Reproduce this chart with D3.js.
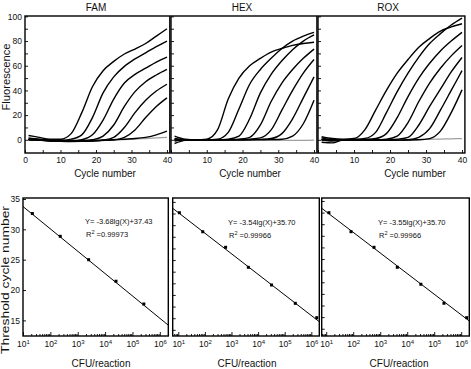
<!DOCTYPE html>
<html>
<head>
<meta charset="utf-8">
<script src="https://cdnjs.cloudflare.com/ajax/libs/d3/7.8.5/d3.min.js"></script>
<style>
body { margin: 0; background: #fff; }
svg { display: block; font-family: "Liberation Sans", Arial, sans-serif; }
.frame { fill: none; stroke: #000; stroke-width: 1.4; }
.axis text { font-family: "Liberation Sans", Arial, sans-serif; font-size: 8.5px; fill: #111; }
.axis line { stroke: #000; stroke-width: 0.9; }
.curve { fill: none; stroke: #000; stroke-width: 1.4; }
.curve.ntc { stroke: #a0a0a0; stroke-width: 1.2; }
.fit { stroke: #000; stroke-width: 1; }
.label { font-size: 10px; fill: #111; }
.eq { font-size: 7.5px; fill: #111; }
</style>
</head>
<body>
<svg id="chart" width="471" height="369"></svg>
<script>
const dyes = ['FAM', 'HEX', 'ROX'];

// amplification curves, read at these cycles
const cycles = [1, 4, 7, 10, 13, 16, 19, 22, 25, 28, 31, 34, 37, 40];

const famCurves = [
    [3.5, 2.0, 0.5, 0.5, 5, 22, 43, 56, 63.5, 69.5, 73.5, 78, 84, 90],
    [1.5, 0.5, -0.3, -0.5, 0.5, 4, 18, 38, 51, 59.5, 65.5, 70.5, 75.5, 80],
    [0.5, 0, -0.8, -1, -1, 0, 4, 16, 33, 46, 53, 58, 63, 67],
    [0, -0.3, -1, -1.3, -1.3, -1, 0, 3, 12, 27, 39, 47, 52.5, 57],
    [0, -0.3, -0.8, -1.2, -1.4, -1.3, -1, -0.3, 2, 10, 22, 32, 39.5, 45],
    [0, -0.2, -0.6, -1, -1.2, -1.2, -1, -0.5, 0, 2, 8, 18, 27, 34],
    [0.5, 0.3, 0, -0.3, -0.5, -0.5, -0.4, -0.2, 0, 0.5, 1, 2, 4, 7]
];
const famNtc = [0, 0, -0.3, -0.6, -0.8, -1, -0.9, -0.6, -0.2, 0.2, 0.5, 1, 1.5, 2];

const hexCurves = [
    [3, 0.5, 0, 0.5, 8, 33, 50, 60, 66, 71, 74, 76.5, 78, 79],
    [-3, -0.5, 0, 0, 0.5, 6, 25, 45, 57, 66, 74, 80, 84, 87],
    [1, 0, 0, 0, 0, 0.5, 3, 17, 38, 53, 64, 73, 80, 85],
    [-1, 0, 0, 0, 0, 0, 0.5, 2, 12, 31, 46, 57, 66, 73.5],
    [0.5, 0, 0, 0, 0, 0, 0, 0.5, 1.5, 8, 24, 40, 54, 65],
    [-0.5, 0, 0, 0, 0, 0, 0, 0, 0.3, 1, 5, 17, 34, 51],
    [0, 0, 0, 0, 0, 0, 0, 0, 0, 0.2, 0.5, 3, 13, 32]
];
const hexNtc = [0, 0, 0, 0, 0, 0, 0, 0, -0.3, -0.5, -0.5, -0.5, -0.5, -0.3];

const roxCurves = [
    [2.5, 1, 0.5, 1, 8, 24, 40, 54, 65, 75, 82, 88, 91.5, 94],
    [-2, -2.5, 0, 0.3, 1, 6, 22, 39, 54, 67, 78, 86, 93, 98.6],
    [1.5, 0, 0, 0, 0.3, 1, 5, 18, 35, 50, 62, 72, 80, 87],
    [0, -1, 0, 0, 0, 0, 0.5, 3, 14, 31, 46, 58, 68, 76.4],
    [0.5, -0.5, -0.3, -0.5, -0.5, -0.5, -0.3, 0.5, 2, 12, 27, 41, 55, 66.7],
    [0, 0, 0, -0.3, -0.5, -0.5, -0.5, -0.3, 0, 2, 9, 24, 40, 56],
    [0, 0, 0, 0, -0.3, -0.3, -0.3, -0.3, -0.2, 0, 1, 7, 22, 40.5]
];
const roxNtc = [0, 0, 0, 0, 0, 0, 0, 0, 0, 0.2, 0.4, 0.6, 0.8, 1];

// standard curves
const famCfu = [22, 230, 2500, 25000, 260000];
const famCt = [32.6, 28.85, 25.0, 21.45, 17.7];
const hexCfu = [11, 83, 600, 4300, 32000, 250000, 1600000];
const hexCt = [32.14, 28.87, 26.19, 22.75, 19.71, 16.56, 14.09];
const roxCfu = [12.6, 83, 590, 4300, 32000, 230000, 1600000];
const roxCt = [31.98, 28.71, 26.02, 22.58, 19.66, 16.39, 13.91];

const fitSlope = [-3.68, -3.54, -3.55];
const fitIntercept = [37.43, 35.70, 35.70];
const fitR2 = ['0.99973', '0.99966', '0.99966'];

// ticks
const cycleTicks = [0, 5, 10, 15, 20, 25, 30, 35, 40];
const cycleLabels = [0, 10, 20, 30, 40];
const fluorTicks = [0, 10, 20, 30, 40, 50, 60, 70, 80, 90, 100];
const fluorLabels = [0, 20, 40, 60, 80, 100];
const ctLabels = [15, 20, 25, 30, 35];
const ctMinorTicks = [12, 14, 16, 18, 20, 22, 24, 26, 28, 30, 32, 34];
const cfuExponents = [1, 2, 3, 4, 5, 6];

const svg = d3.select('#chart');

class AmplificationPlot {
    constructor(_config, _data) {
        this.config = _config;
        this.data = _data;
        this.initVis();
    }

    initVis() {
        let vis = this;
        let c = vis.config;

        vis.xScale = d3.scaleLinear().domain([0, 40.8]).range([c.x0, c.x1]);
        vis.yScale = d3.scaleLinear().domain([-10.7, 100.3]).range([153, 16]);

        vis.g = svg.append('g');

        vis.xAxis = d3.axisBottom(vis.xScale)
            .tickValues(cycleTicks)
            .tickSize(-3)
            .tickPadding(4)
            .tickFormat(d => (cycleLabels.includes(d) && (d > 0 || c.first)) ? d : '');

        vis.yAxis = d3.axisLeft(vis.yScale)
            .tickValues(fluorTicks)
            .tickSize(-3)
            .tickPadding(3)
            .tickFormat(d => (c.first && fluorLabels.includes(d)) ? d : '');

        vis.g.append('g').attr('class', 'axis')
            .attr('transform', 'translate(0,153)')
            .call(vis.xAxis)
            .call(g => g.select('.domain').remove());

        vis.g.append('g').attr('class', 'axis')
            .attr('transform', `translate(${c.x0},0)`)
            .call(vis.yAxis)
            .call(g => g.select('.domain').remove());

        vis.g.append('rect')
            .attr('class', 'frame')
            .attr('x', c.x0).attr('y', 16)
            .attr('width', c.x1 - c.x0).attr('height', 153 - 16);

        vis.g.append('text')
            .attr('class', 'label')
            .attr('x', c.titleX).attr('y', 11)
            .attr('text-anchor', 'middle')
            .text(c.title);

        vis.g.append('text')
            .attr('class', 'label')
            .attr('x', c.labelX).attr('y', 177)
            .attr('text-anchor', 'middle')
            .text('Cycle number');

        vis.renderVis();
    }

    renderVis() {
        let vis = this;

        vis.line = d3.line()
            .x((d, i) => vis.xScale(cycles[i]))
            .y(d => vis.yScale(d))
            .curve(d3.curveMonotoneX);

        vis.g.append('path')
            .datum(vis.data.ntc)
            .attr('class', 'curve ntc')
            .attr('d', vis.line);

        vis.g.selectAll('.curve.pos')
            .data(vis.data.curves)
            .join('path')
            .attr('class', 'curve pos')
            .attr('d', vis.line);
    }
}

class StandardCurvePlot {
    constructor(_config, _data) {
        this.config = _config;
        this.data = _data;
        this.initVis();
    }

    initVis() {
        let vis = this;
        let c = vis.config;

        vis.xScale = d3.scaleLog()
            .domain([Math.pow(10, c.lgDomain[0]), Math.pow(10, c.lgDomain[1])])
            .range([c.x0, c.x1]);
        vis.yScale = d3.scaleLinear().domain(c.ctDomain).range([336, 198]);

        vis.g = svg.append('g');

        let majors = cfuExponents.map(e => Math.pow(10, e));
        let minors = vis.xScale.ticks().filter(t => !majors.some(m => Math.abs(m - t) / m < 1e-6));

        vis.g.append('g').attr('class', 'axis')
            .attr('transform', 'translate(0,336)')
            .call(d3.axisBottom(vis.xScale).tickValues(minors).tickSize(-2).tickFormat(''))
            .call(g => g.select('.domain').remove());

        vis.g.append('g').attr('class', 'axis')
            .attr('transform', 'translate(0,336)')
            .call(d3.axisBottom(vis.xScale).tickValues(majors).tickSize(-4).tickPadding(5).tickFormat(''))
            .call(g => g.select('.domain').remove())
            .selectAll('.tick text')
            .each(function(d, i) {
                let t = d3.select(this);
                t.text('10');
                t.append('tspan').attr('dy', -3.5).attr('font-size', 6).text(cfuExponents[i]);
            });

        vis.g.append('g').attr('class', 'axis')
            .attr('transform', `translate(${c.x0},0)`)
            .call(d3.axisLeft(vis.yScale)
                .tickValues(c.first ? ctLabels : ctMinorTicks)
                .tickSize(-3)
                .tickPadding(3)
                .tickFormat(d => c.first ? d : ''))
            .call(g => g.select('.domain').remove());

        vis.g.append('rect')
            .attr('class', 'frame')
            .attr('x', c.x0).attr('y', 198)
            .attr('width', c.x1 - c.x0).attr('height', 336 - 198);

        vis.g.append('text')
            .attr('class', 'label')
            .attr('x', c.labelX).attr('y', 367)
            .attr('text-anchor', 'middle')
            .text('CFU/reaction');

        vis.renderVis();
    }

    renderVis() {
        let vis = this;
        let c = vis.config;
        let d = vis.data;

        let ends = vis.xScale.domain();
        vis.g.append('line')
            .attr('class', 'fit')
            .attr('x1', vis.xScale(ends[0]))
            .attr('y1', vis.yScale(d.slope * Math.log10(ends[0]) + d.intercept))
            .attr('x2', vis.xScale(ends[1]))
            .attr('y2', vis.yScale(d.slope * Math.log10(ends[1]) + d.intercept));

        vis.g.selectAll('.pt')
            .data(d.cfu)
            .join('rect')
            .attr('class', 'pt')
            .attr('x', v => vis.xScale(v) - 1.5)
            .attr('y', (v, i) => vis.yScale(d.ct[i]) - 1.5)
            .attr('width', 3)
            .attr('height', 3)
            .attr('fill', '#000');

        vis.g.append('text')
            .attr('class', 'eq')
            .attr('x', c.eqX).attr('y', c.eqY + 2.5)
            .text(`Y= ${d.slope.toFixed(2)}lg(X)+${d.intercept.toFixed(2)}`);

        let r = vis.g.append('text')
            .attr('class', 'eq')
            .attr('x', c.eqX + 1).attr('y', c.eqY + 15.5)
            .text('R');
        r.append('tspan').attr('dy', -3).attr('font-size', 5.5).text('2');
        r.append('tspan').attr('dy', 3).text(' =' + d.r2);
    }
}

const topLayout = [
    { x0: 25, x1: 169.8, titleX: 96, labelX: 105, first: true },
    { x0: 171, x1: 316.9, titleX: 242, labelX: 250, first: false },
    { x0: 318, x1: 464.9, titleX: 388, labelX: 415, first: false }
];
const bottomLayout = [
    { x0: 23, x1: 168.3, lgDomain: [1.0, 6.31], ctDomain: [12.43, 35.16], eqX: 85, eqY: 221.7, labelX: 101, first: true },
    { x0: 172.7, x1: 319.3, lgDomain: [0.79, 6.30], ctDomain: [10.94, 34.67], eqX: 228, eqY: 222.7, labelX: 247, first: false },
    { x0: 321.7, x1: 469.3, lgDomain: [0.833, 6.30], ctDomain: [10.75, 34.51], eqX: 378, eqY: 222.7, labelX: 399, first: false }
];

const curveSets = [famCurves, hexCurves, roxCurves];
const ntcSets = [famNtc, hexNtc, roxNtc];
const cfuSets = [famCfu, hexCfu, roxCfu];
const ctSets = [famCt, hexCt, roxCt];

dyes.forEach((dye, i) => {
    new AmplificationPlot(Object.assign({ title: dye }, topLayout[i]),
        { curves: curveSets[i], ntc: ntcSets[i] });
    new StandardCurvePlot(bottomLayout[i],
        { cfu: cfuSets[i], ct: ctSets[i], slope: fitSlope[i], intercept: fitIntercept[i], r2: fitR2[i] });
});

// rotated axis titles
svg.append('text')
    .attr('class', 'label')
    .attr('transform', 'translate(9.5,77) rotate(-90)')
    .attr('text-anchor', 'middle')
    .attr('font-size', 11)
    .attr('textLength', 67)
    .attr('lengthAdjust', 'spacingAndGlyphs')
    .text('Fluorescence');

svg.append('text')
    .attr('class', 'label')
    .attr('transform', 'translate(8.5,280) rotate(-90)')
    .attr('text-anchor', 'middle')
    .attr('font-size', 11)
    .attr('textLength', 148)
    .attr('lengthAdjust', 'spacingAndGlyphs')
    .text('Threshold cycle number');
</script>
</body>
</html>
